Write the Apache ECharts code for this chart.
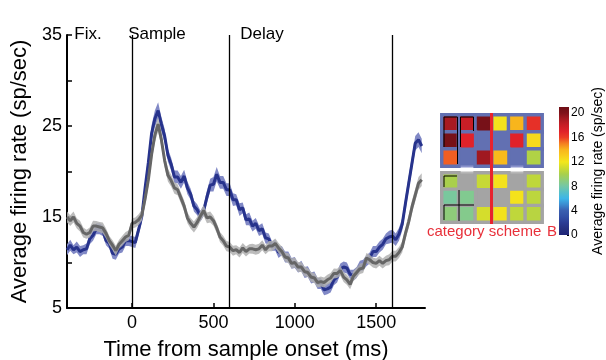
<!DOCTYPE html>
<html>
<head>
<meta charset="utf-8">
<script src="https://cdn.jsdelivr.net/npm/echarts@6/dist/echarts.min.js"></script>
<style>
  html, body { margin: 0; padding: 0; background: #fff; }
  #chart { width: 606px; height: 360px; }
</style>
</head>
<body>
<div id="chart"></div>
<script>
// time axis sampling (ms from sample onset)
const tStart = -400;
const tStep = 20;

// mean firing rate, blue condition (sp/sec), one value per 20 ms
const blueMean = [
  11.4, 11.9, 11.4, 11.7, 11.2, 11.4, 11.5, 12.6, 13.0, 13.7,
  13.7, 13.5, 12.4, 12.1, 11.0, 10.9, 11.5, 11.7, 12.4, 12.4,
  12.3, 12.2, 13.6, 15.1, 18.2, 21.0, 24.2, 25.8, 26.7, 25.2,
  23.9, 21.8, 20.8, 19.4, 19.4, 18.8, 19.5, 18.2, 17.5, 16.2,
  15.8, 15.1, 15.7, 17.2, 18.5, 18.6, 19.7, 18.8, 18.8, 18.0,
  18.0, 16.9, 16.9, 15.8, 16.0, 14.7, 14.8, 14.0, 14.3, 13.5,
  13.7, 12.7, 12.6, 11.8, 11.9, 11.1, 11.3, 10.6, 10.6, 9.9,
  10.0, 9.4, 9.6, 8.9, 9.0, 8.3, 8.4, 7.7, 7.7, 7.0,
  7.1, 7.3, 8.1, 8.4, 9.3, 9.5, 9.4, 8.7, 8.6, 8.9,
  9.6, 9.7, 10.2, 10.5, 11.2, 11.2, 11.7, 12.0, 12.6, 12.8,
  12.9, 12.5, 13.1, 14.2, 16.5, 18.7, 20.9, 23.1, 23.5, 22.8
];
const blueSem = [
  0.6, 0.6, 0.5, 0.6, 0.6, 0.5, 0.6, 0.6, 0.6, 0.6,
  0.6, 0.6, 0.5, 0.6, 0.6, 0.6, 0.5, 0.6, 0.6, 0.6,
  0.6, 0.6, 0.6, 0.7, 0.8, 0.8, 0.9, 0.9, 0.9, 0.8,
  0.8, 0.7, 0.7, 0.7, 0.7, 0.7, 0.7, 0.7, 0.6, 0.6,
  0.6, 0.6, 0.6, 0.7, 0.7, 0.8, 0.8, 0.7, 0.7, 0.7,
  0.7, 0.7, 0.6, 0.7, 0.6, 0.6, 0.7, 0.6, 0.6, 0.6,
  0.6, 0.6, 0.6, 0.5, 0.6, 0.6, 0.5, 0.6, 0.6, 0.6,
  0.6, 0.5, 0.6, 0.6, 0.6, 0.6, 0.6, 0.6, 0.6, 0.6,
  0.6, 0.6, 0.6, 0.6, 0.6, 0.6, 0.6, 0.5, 0.6, 0.6,
  0.6, 0.6, 0.6, 0.6, 0.6, 0.6, 0.6, 0.6, 0.6, 0.7,
  0.7, 0.7, 0.7, 0.7, 0.8, 0.8, 0.8, 0.8, 0.8, 0.8
];

// mean firing rate, gray condition
const grayMean = [
  15.0, 14.6, 15.0, 14.3, 14.0, 13.3, 13.1, 13.3, 14.0, 14.0,
  13.9, 13.8, 13.2, 12.4, 11.9, 11.3, 12.0, 12.4, 12.8, 13.0,
  14.3, 14.4, 14.7, 15.2, 17.0, 19.1, 21.9, 24.0, 25.2, 23.5,
  21.2, 19.6, 19.0, 18.2, 18.0, 17.1, 16.2, 14.9, 14.3, 13.9,
  14.4, 15.1, 15.7, 14.9, 15.0, 14.6, 13.8, 12.8, 12.4, 11.8,
  11.7, 11.3, 11.4, 11.1, 11.6, 11.2, 11.5, 11.5, 11.4, 11.5,
  11.9, 11.4, 11.8, 11.8, 12.1, 11.6, 11.2, 10.6, 10.5, 9.9,
  10.0, 9.5, 9.5, 9.0, 8.9, 8.4, 8.3, 7.8, 7.9, 7.8,
  8.1, 8.3, 8.8, 8.8, 9.1, 8.4, 8.1, 7.6, 8.5, 8.9,
  9.3, 9.4, 10.5, 10.3, 10.0, 9.9, 10.2, 9.9, 10.2, 10.3,
  10.7, 10.7, 11.1, 11.7, 13.2, 14.5, 16.1, 17.4, 18.7, 19.1
];
const graySem = [
  0.6, 0.6, 0.6, 0.55, 0.6, 0.55, 0.5, 0.55, 0.6, 0.55,
  0.55, 0.6, 0.55, 0.5, 0.55, 0.55, 0.5, 0.55, 0.55, 0.55,
  0.55, 0.55, 0.6, 0.6, 0.7, 0.75, 0.8, 0.8, 0.8, 0.75,
  0.7, 0.7, 0.65, 0.65, 0.6, 0.6, 0.6, 0.6, 0.6, 0.6,
  0.6, 0.6, 0.6, 0.6, 0.6, 0.55, 0.55, 0.55, 0.55, 0.55,
  0.55, 0.55, 0.5, 0.55, 0.55, 0.55, 0.5, 0.55, 0.55, 0.55,
  0.55, 0.5, 0.55, 0.55, 0.55, 0.55, 0.55, 0.5, 0.55, 0.55,
  0.55, 0.55, 0.55, 0.55, 0.5, 0.55, 0.55, 0.55, 0.55, 0.55,
  0.55, 0.55, 0.55, 0.5, 0.55, 0.55, 0.55, 0.55, 0.55, 0.55,
  0.55, 0.55, 0.55, 0.55, 0.55, 0.55, 0.55, 0.55, 0.55, 0.6,
  0.6, 0.6, 0.6, 0.6, 0.65, 0.7, 0.7, 0.7, 0.7, 0.7
];

// task epoch boundaries and labels
const epochLines = [0, 600, 1600];
const xTickValues = [0, 500, 1000, 1500];
const yTickLabels = [5, 15, 25, 35];

// inset: average firing rate per stimulus (null = not shown)
const blueBoxCells = [
  [19, 18, 20.5, 12.2, 14, 16.5],
  [20.5, 17, null, null, 17, 12.5],
  [15.5, null, 19.2, 13.8, null, 10.2]
];
const grayBoxCells = [
  [10, null, 10.8, 12.2, null, 10.6],
  [8.2, 8.5, null, null, 12.2, 10.5],
  [9, 8.6, 11.2, 12.2, 10.6, 10.4]
];
const colorbarMax = 21;

// jet-like colormap, one colour per integer 0..21
const jet = [
  '#1f2478', '#25307f', '#2b3c94', '#3250a6', '#3a5fb0', '#3c8cd0',
  '#3db5e8', '#55bfc8', '#74c7a6', '#8ecc7a', '#a9d04c', '#cedb30',
  '#f3e71c', '#f8cc1c', '#f8b51c', '#f47f20', '#ec3d25', '#e0222a',
  '#c81e26', '#a81a22', '#80121a', '#6e0f15'
];

const times = blueMean.map((_, i) => tStart + i * tStep);
const FONT = '"Liberation Sans", Arial, Helvetica, sans-serif';

function bandSeries(mean, sem, fill, z) {
  return {
    type: 'custom',
    xAxisIndex: 0,
    yAxisIndex: 0,
    z: z,
    silent: true,
    clip: true,
    data: times.map((t, i) => [t, mean[i] - sem[i], mean[i] + sem[i]]),
    renderItem: function (params, api) {
      if (params.dataIndex !== 0) return null;
      const pts = [];
      for (let i = 0; i < times.length; i++) pts.push(api.coord([times[i], mean[i] + sem[i]]));
      for (let i = times.length - 1; i >= 0; i--) pts.push(api.coord([times[i], mean[i] - sem[i]]));
      return { type: 'polygon', shape: { points: pts }, style: { fill: fill } };
    }
  };
}

function heatData(cells) {
  const out = [];
  cells.forEach((row, r) => row.forEach((v, c) => { if (v !== null) out.push([c, r, v]); }));
  return out;
}

const cols = ['1', '2', '3', '4', '5', '6'];
const rows = ['1', '2', '3'];
const blueBoxFill = '#6270b2';
const grayBoxFill = '#a4a4a4';
const red = '#e8303a';

const chart = echarts.init(document.getElementById('chart'), null, { renderer: 'canvas' });

const option = {
  backgroundColor: '#fff',
  animation: false,
  textStyle: { fontFamily: FONT },
  grid: [
    { left: 67, top: 35, width: 358, height: 273, outerBoundsMode: 'none', containLabel: false },
    { left: 442, top: 115, width: 100, height: 51, outerBoundsMode: 'none' },
    { left: 442, top: 173, width: 100, height: 49, outerBoundsMode: 'none' },
    { left: 559, top: 107, width: 10, height: 128, outerBoundsMode: 'none' }
  ],
  xAxis: [
    {
      type: 'value', gridIndex: 0, min: -400, max: 1800,
      name: 'Time from sample onset (ms)', nameLocation: 'middle', nameGap: 31,
      nameTextStyle: { fontSize: 22, color: '#000', fontFamily: FONT },
      axisLine: { onZero: false, lineStyle: { color: '#000', width: 2 } },
      axisTick: { inside: true, length: 5, lineStyle: { color: '#000', width: 1.5 }, customValues: xTickValues },
      axisLabel: { fontSize: 18, color: '#000', margin: 6, customValues: xTickValues, fontFamily: FONT, formatter: v => String(v) },
      splitLine: { show: false }
    },
    { type: 'category', gridIndex: 1, data: cols, show: false },
    { type: 'category', gridIndex: 2, data: cols, show: false },
    { type: 'category', gridIndex: 3, data: ['c'], show: false }
  ],
  yAxis: [
    {
      type: 'value', gridIndex: 0, min: 5, max: 35, interval: 5,
      name: 'Average firing rate (sp/sec)', nameLocation: 'middle', nameGap: 29,
      nameTextStyle: { fontSize: 22, color: '#000', fontFamily: FONT },
      axisLine: { show: true, onZero: false, lineStyle: { color: '#000', width: 2 } },
      axisTick: { show: true, inside: true, length: 5, lineStyle: { color: '#000', width: 1.5 } },
      axisLabel: {
        fontSize: 18, color: '#000', margin: 5, fontFamily: FONT,
        formatter: v => (yTickLabels.indexOf(v) >= 0 ? String(v) : '')
      },
      splitLine: { show: false }
    },
    { type: 'category', gridIndex: 1, data: rows, inverse: true, show: false },
    { type: 'category', gridIndex: 2, data: rows, inverse: true, show: false },
    {
      type: 'value', gridIndex: 3, position: 'right', min: 0, max: colorbarMax, interval: 4,
      name: 'Average firing rate (sp/sec)', nameLocation: 'middle', nameGap: 22,
      nameTextStyle: { fontSize: 14, color: '#000', fontFamily: FONT },
      axisLine: { show: false, onZero: false },
      axisTick: { show: true, inside: true, length: 2, lineStyle: { color: '#000', width: 1 } },
      axisLabel: { fontSize: 12, color: '#000', margin: 2, fontFamily: FONT },
      splitLine: { show: false }
    }
  ],
  visualMap: {
    type: 'continuous', show: false, min: 0, max: colorbarMax, dimension: 2,
    seriesIndex: [4, 5], inRange: { color: jet }
  },
  series: [
    bandSeries(blueMean, blueSem, '#8189c6', 1),
    {
      type: 'line', xAxisIndex: 0, yAxisIndex: 0, z: 2, symbol: 'none', silent: true,
      data: times.map((t, i) => [t, blueMean[i]]),
      lineStyle: { color: '#27338c', width: 3 }
    },
    bandSeries(grayMean, graySem, 'rgba(176,176,176,0.85)', 3),
    {
      type: 'line', xAxisIndex: 0, yAxisIndex: 0, z: 4, symbol: 'none', silent: true,
      data: times.map((t, i) => [t, grayMean[i]]),
      lineStyle: { color: '#666666', width: 3 },
      markLine: {
        silent: true, symbol: 'none', label: { show: false },
        lineStyle: { color: '#000', width: 1.3, type: 'solid' },
        data: epochLines.map(x => ({ xAxis: x }))
      }
    },
    {
      type: 'heatmap', xAxisIndex: 1, yAxisIndex: 1, z: 5,
      data: heatData(blueBoxCells),
      itemStyle: { borderColor: blueBoxFill, borderWidth: 3.4 }
    },
    {
      type: 'heatmap', xAxisIndex: 2, yAxisIndex: 2, z: 5,
      data: heatData(grayBoxCells),
      itemStyle: { borderColor: grayBoxFill, borderWidth: 3.4 }
    },
    {
      type: 'bar', xAxisIndex: 3, yAxisIndex: 3, barWidth: '100%', silent: true,
      data: [colorbarMax],
      itemStyle: {
        color: new echarts.graphic.LinearGradient(0, 1, 0, 0,
          jet.map((c, i) => ({ offset: i / (jet.length - 1), color: c })))
      }
    }
  ],
  graphic: [
    { type: 'text', x: 88, y: 34, style: { text: 'Fix.', font: '17px ' + FONT, fill: '#000', align: 'center', verticalAlign: 'middle' } },
    { type: 'text', x: 157, y: 34, style: { text: 'Sample', font: '17px ' + FONT, fill: '#000', align: 'center', verticalAlign: 'middle' } },
    { type: 'text', x: 262, y: 34, style: { text: 'Delay', font: '17px ' + FONT, fill: '#000', align: 'center', verticalAlign: 'middle' } },
    // inset frames
    { type: 'rect', z: 1, shape: { x: 441, y: 114.5, width: 101, height: 52, r: 6 }, style: { fill: blueBoxFill, stroke: '#8b93cc', lineWidth: 2 } },
    { type: 'rect', z: 1, shape: { x: 441, y: 172.5, width: 101, height: 50, r: 6 }, style: { fill: grayBoxFill, stroke: '#b8b8b8', lineWidth: 2 } },
    // stimulus outlines
    { type: 'polyline', z: 20, shape: { points: [[444, 147], [444, 117], [457.5, 117], [457.5, 164]] }, style: { stroke: '#000', lineWidth: 1, fill: null } },
    { type: 'polyline', z: 20, shape: { points: [[460.5, 147], [460.5, 117], [473.5, 117], [473.5, 131]] }, style: { stroke: '#000', lineWidth: 1, fill: null } },
    { type: 'polyline', z: 20, shape: { points: [[444, 187], [444, 176], [457, 176]] }, style: { stroke: '#000', lineWidth: 1, fill: null } },
    { type: 'line', z: 20, shape: { x1: 444, y1: 205, x2: 474, y2: 205 }, style: { stroke: '#000', lineWidth: 1 } },
    { type: 'line', z: 20, shape: { x1: 459, y1: 190, x2: 459, y2: 221 }, style: { stroke: '#000', lineWidth: 1 } },
    { type: 'line', z: 20, shape: { x1: 444, y1: 205, x2: 444, y2: 220 }, style: { stroke: '#000', lineWidth: 1 } },
    // category boundary
    { type: 'line', z: 21, shape: { x1: 491.5, y1: 113, x2: 491.5, y2: 224 }, style: { stroke: '#e8232d', lineWidth: 3 } },
    { type: 'text', z: 21, x: 427, y: 232, style: { text: 'category scheme', font: '15px ' + FONT, fill: red, verticalAlign: 'middle' } },
    { type: 'text', z: 21, x: 547, y: 232, style: { text: 'B', font: '15px ' + FONT, fill: red, verticalAlign: 'middle' } }
  ]
};

chart.setOption(option);
</script>
</body>
</html>
